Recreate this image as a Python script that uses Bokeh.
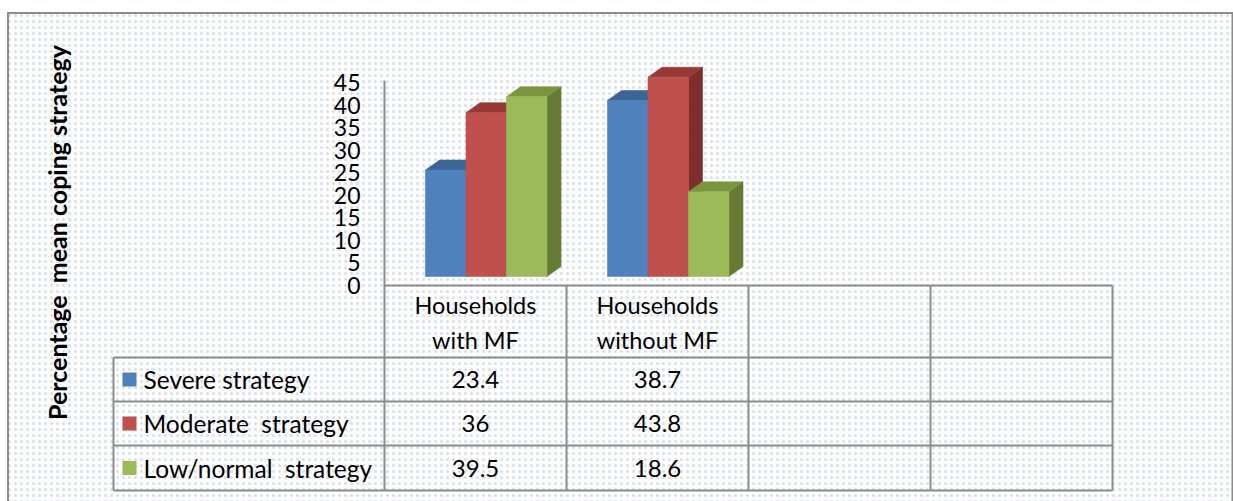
import math
from bokeh.plotting import figure
from bokeh.models import Range1d
from bokeh.core.properties import value
from bokeh.embed import file_html
from bokeh.resources import INLINE

# ---------------- data ----------------
categories = ["Households\nwith MF", "Households\nwithout MF", "", ""]
series_names = ["Severe strategy", "Moderate  strategy", "Low/normal  strategy"]
severe = [23.4, 38.7]
moderate = [36, 43.8]
low = [39.5, 18.6]
series_values = [severe, moderate, low]
value_labels = [["23.4", "38.7"], ["36", "43.8"], ["39.5", "18.6"]]
y_ticks = [0, 5, 10, 15, 20, 25, 30, 35, 40, 45]
y_title = "Percentage  mean coping strategy"

front_colors = ["#4f81bd", "#c0504d", "#9bbb59"]
top_colors = ["#3c6595", "#953a37", "#79953d"]
side_colors = ["#385e8b", "#7d2f2d", "#657b33"]


def keep_spaces(s):
    # SVG collapses runs of spaces; keep the double spacing visible
    return s.replace("  ", " \u00a0")


# ---------------- layout (page pixels) ----------------
W, H = 1233, 501
PX0, PY0 = 0, 0
SLOT0, SLOT_W = 384, 182          # first category column start, width
FLOOR, VSCALE = 276, 4.55         # bar floor (page y), px per unit
AX_ZERO, AX_SCALE = 285, 4.51     # axis labels zero, px per unit
DEPTH_X, DEPTH_Y = 14, 10         # 3D depth in px
BAR_W = 40.5
BAR_OFF = 41
GRID = "#8c8c8c"
FONT = "Lato"

p = figure(width=W, height=H,
           x_range=Range1d((PX0 - SLOT0) / SLOT_W, (PX0 + W - SLOT0) / SLOT_W),
           y_range=Range1d(-(PY0 + H - FLOOR) / VSCALE, (FLOOR - PY0) / VSCALE),
           output_backend="svg", toolbar_location=None, min_border=0,
           x_axis_location=None, y_axis_location=None,
           outline_line_color=None, background_fill_color="white",
           border_fill_color="white")
p.xgrid.visible = False
p.ygrid.visible = False
p.extra_x_ranges = {"px": Range1d(PX0, PX0 + W)}
p.extra_y_ranges = {"px": Range1d(PY0 + H, PY0),
                    "ax": Range1d(-(PY0 + H - AX_ZERO) / AX_SCALE, (AX_ZERO - PY0) / AX_SCALE)}

PXR = dict(x_range_name="px", y_range_name="px")

# background with dotted pattern
p.quad(left=[8.5], right=[1231.5], top=[13.5], bottom=[PY0 + H],
       fill_color="white", line_color=None,
       hatch_pattern="dot", hatch_color="#d6ddec", hatch_scale=6, hatch_weight=1.8,
       **PXR)

# outer border
p.segment(x0=[7.5, 6.5, 1232], y0=[12.5, 12.5, 12.5], x1=[7.5, 1233, 1232], y1=[PY0 + H, 12.5, PY0 + H],
          line_color=GRID, line_width=2, **PXR)

# ---------------- 3D bars ----------------
dx = DEPTH_X / SLOT_W
dy = DEPTH_Y / VSCALE
xs, ys, fills = [], [], []
for ci in range(len(severe)):
    for si, vals in enumerate(series_values):
        v = vals[ci]
        l = ci + (BAR_OFF + si * BAR_W) / SLOT_W
        r = l + BAR_W / SLOT_W
        # side
        xs.append([r, r + dx, r + dx, r]); ys.append([0, dy, v + dy, v]); fills.append(side_colors[si])
        # top
        xs.append([l, r, r + dx, l + dx]); ys.append([v, v, v + dy, v + dy]); fills.append(top_colors[si])
        # front
        xs.append([l, r, r, l]); ys.append([0, 0, v, v]); fills.append(front_colors[si])
p.patches(xs=xs, ys=ys, fill_color=fills, line_color=fills, line_width=0.6)

# ---------------- value axis ----------------
p.text(x=[360] * len(y_ticks), y=y_ticks, text=[str(t) for t in y_ticks],
       text_align="right", text_baseline="middle", text_font=value(FONT),
       text_font_size="23px", text_color="black",
       x_range_name="px", y_range_name="ax")

# ---------------- data table grid ----------------
col_x = [SLOT0 + SLOT_W * k for k in range(len(categories) + 1)]
row_y = [285, 357, 401, 445, 490]
leg_x = 113
hx0 = [col_x[0]] + [leg_x] * 4
hx1 = [col_x[-1]] * 5
p.segment(x0=hx0, y0=row_y, x1=hx1, y1=row_y, line_color=GRID, line_width=2, **PXR)
vx = [leg_x] + col_x
vy0 = [row_y[1], 80] + [row_y[0]] * (len(col_x) - 1)
p.segment(x0=vx, y0=vy0, x1=vx, y1=[row_y[-1]] * len(vx), line_color=GRID, line_width=2, **PXR)

# header
hc = [col_x[k] + SLOT_W / 2 for k in range(len(categories))]
p.text(x=hc, y=[(row_y[0] + row_y[1]) / 2 + 1] * len(hc), text=categories,
       text_align="center", text_baseline="middle", text_font=value(FONT),
       text_font_size="23.5px", text_line_height=1.23, text_color="black", **PXR)

# legend keys + names
rc = [(row_y[i + 1] + row_y[i + 2]) / 2 for i in range(3)]
p.quad(left=[122] * 3, right=[136] * 3, top=[c - 7 for c in rc], bottom=[c + 7 for c in rc],
       fill_color=front_colors, line_color=None, **PXR)
p.text(x=[143] * 3, y=rc, text=[keep_spaces(s) for s in series_names],
       text_align="left", text_baseline="middle",
       text_font=value(FONT), text_font_size="24.5px", text_color="black", **PXR)

# values
tx, ty, tt = [], [], []
for si in range(3):
    for ci in range(len(severe)):
        tx.append(hc[ci]); ty.append(rc[si]); tt.append(value_labels[si][ci])
p.text(x=tx, y=ty, text=tt, text_align="center", text_baseline="middle",
       text_font=value(FONT), text_font_size="24px", text_color="black", **PXR)

# y title
p.text(x=[56], y=[232], text=[keep_spaces(y_title)], angle=math.pi / 2, text_align="center",
       text_baseline="middle", text_font=value(FONT), text_font_size="25px",
       text_font_style="bold", text_color="black", **PXR)

open("out.html", "w").write(file_html(p, INLINE))
